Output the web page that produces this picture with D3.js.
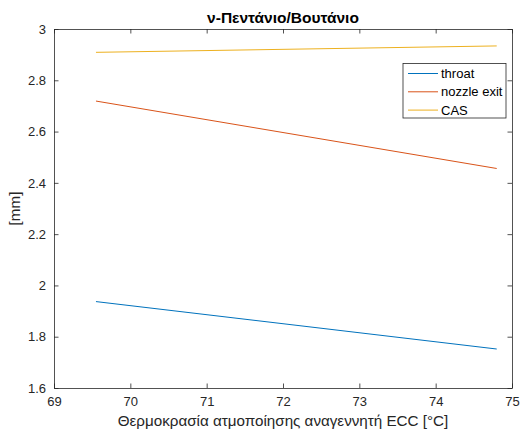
<!DOCTYPE html>
<html>
<head>
<meta charset="utf-8">
<script src="https://cdn.jsdelivr.net/npm/d3@7"></script>
<style>
  html, body { margin: 0; padding: 0; background: #fff; }
  svg { display: block; font-family: "Liberation Sans", Arial, Helvetica, sans-serif; }
</style>
</head>
<body>
<svg id="chart" width="524" height="436"></svg>
<script>
// Evaporation temperature of the ECC regenerator [°C]
const temps = [69.55, 74.8];
// Diameters [mm]
const throat = [1.937, 1.752];
const nozzleExit = [2.719, 2.456];
const cas = [2.909, 2.934];

const seriesNames = ["throat", "nozzle exit", "CAS"];
const seriesColors = ["#0072BD", "#D95319", "#EDB120"];
const xTicks = [69, 70, 71, 72, 73, 74, 75];
const yTicks = [1.6, 1.8, 2, 2.2, 2.4, 2.6, 2.8, 3];

const titleText = "ν-Πεντάνιο/Βουτάνιο";
const xLabel = "Θερμοκρασία ατμοποίησης αναγεννητή ECC [°C]";
const yLabel = "[mm]";

const svg = d3.select("#chart");
const m = { left: 54, right: 12, top: 29, bottom: 48 };
const W = 524, H = 436;
const x = d3.scaleLinear().domain([69, 75]).range([m.left, W - m.right]);
const y = d3.scaleLinear().domain([1.6, 3]).range([H - m.bottom, m.top]);

const axisColor = "#262626";
const tickLen = 4.5;

// Axes: inward ticks, mirrored on top and right
const gx = svg.append("g").attr("transform", `translate(0,${y.range()[0]})`)
  .call(d3.axisBottom(x).tickValues(xTicks).tickSizeInner(-tickLen).tickSizeOuter(0).tickPadding(9).tickFormat(d3.format("d")));
const gxt = svg.append("g").attr("transform", `translate(0,${y.range()[1]})`)
  .call(d3.axisTop(x).tickValues(xTicks).tickSizeInner(-tickLen).tickSizeOuter(0).tickFormat(""));
const gy = svg.append("g").attr("transform", `translate(${x.range()[0]},0)`)
  .call(d3.axisLeft(y).tickValues(yTicks).tickSizeInner(-tickLen).tickSizeOuter(0).tickPadding(8).tickFormat(d => String(+d.toFixed(1))));
const gyr = svg.append("g").attr("transform", `translate(${x.range()[1]},0)`)
  .call(d3.axisRight(y).tickValues(yTicks).tickSizeInner(-tickLen).tickSizeOuter(0).tickFormat(""));

[gx, gxt, gy, gyr].forEach(g => {
  g.select(".domain").attr("stroke", axisColor).attr("stroke-width", 0.8);
  g.selectAll(".tick line").attr("stroke", axisColor).attr("stroke-width", 0.8);
  g.selectAll(".tick text").attr("fill", axisColor).style("font-size", "13px")
    .style("font-family", "'Liberation Sans', Arial, sans-serif");
});

// Data lines
const line = d3.line().x(d => x(d[0])).y(d => y(d[1]));
const allSeries = [throat, nozzleExit, cas];
allSeries.forEach((vals, i) => {
  svg.append("path")
    .datum(temps.map((t, k) => [t, vals[k]]))
    .attr("fill", "none")
    .attr("stroke", seriesColors[i])
    .attr("stroke-width", 1)
    .attr("d", line);
});

// Title and axis labels
svg.append("text").attr("x", (x.range()[0] + x.range()[1]) / 2).attr("y", 23)
  .attr("text-anchor", "middle").attr("font-weight", "bold").attr("font-size", 15.5)
  .attr("fill", "#000").text(titleText);
svg.append("text").attr("x", (x.range()[0] + x.range()[1]) / 2).attr("y", 426)
  .attr("text-anchor", "middle").attr("font-size", 15.2).attr("fill", axisColor).text(xLabel);
svg.append("text").attr("transform", `translate(20,${(y.range()[0] + y.range()[1]) / 2}) rotate(-90)`)
  .attr("text-anchor", "middle").attr("font-size", 15.2).attr("fill", axisColor).text(yLabel);

// Legend
const lg = svg.append("g").attr("transform", "translate(403,63.5)");
lg.append("rect").attr("width", 103).attr("height", 54.5)
  .attr("fill", "#fff").attr("stroke", "#262626").attr("stroke-width", 0.8);
seriesNames.forEach((name, i) => {
  const cy = 10 + i * 18.3;
  lg.append("line").attr("x1", 5).attr("x2", 35).attr("y1", cy).attr("y2", cy)
    .attr("stroke", seriesColors[i]).attr("stroke-width", 1);
  lg.append("text").attr("x", 38).attr("y", cy + 4.5).attr("font-size", 13)
    .attr("fill", "#000").text(name);
});
</script>
</body>
</html>
